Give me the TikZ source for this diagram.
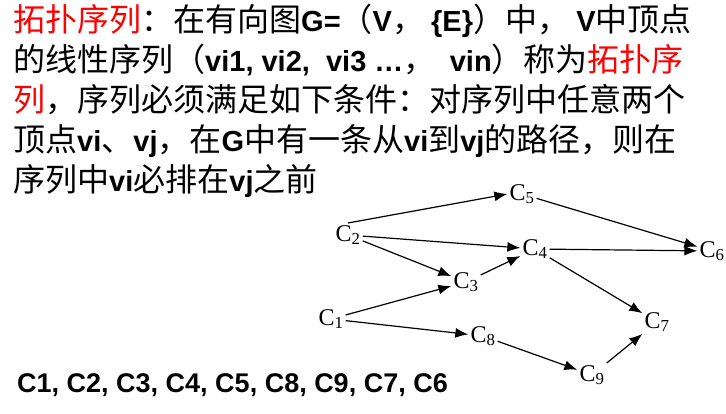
\documentclass[tikz,border=0pt]{standalone}
\usepackage{fontspec}
\setmainfont{Liberation Serif}
\newfontfamily\cjk{Noto Sans CJK SC}
\newfontfamily\arial{Liberation Sans}
\usepackage{tikz}
\usetikzlibrary{arrows.meta}
\newcommand{\B}[1]{{\arial\bfseries\fontsize{29}{32}\selectfont #1}}
\newcommand{\R}[1]{\textcolor{red}{#1}}

\begin{document}
\begin{tikzpicture}[x=1pt,y=-1pt,
  line/.style={anchor=base west,inner sep=0pt,font=\cjk\fontsize{32}{36}\selectfont},
  vtx/.style={inner sep=2pt,font=\fontsize{24}{26}\selectfont},
  edge/.style={-{Latex[length=13pt,width=10pt]},line width=1.2pt}]
  \useasboundingbox (0,0) rectangle (726,413);
  \node[line] (l1) at (13,31) {\R{拓扑序列}：在有向图\B{G=}（\B{V}，\ \B{\{E\}}）中，\ \B{V}中顶点};
  \node[line] (l2) at (13,71) {的线性序列（\B{vi1, vi2,\ \ vi3 …}，\ \ \B{vin}）称为\R{拓扑序}};
  \node[line] (l3) at (13,111) {\R{列}，序列必须满足如下条件：对序列中任意两个};
  \node[line] (l4) at (13,151) {顶点\B{vi}、\B{vj}，在\B{G}中有一条从\B{vi}到\B{vj}的路径，则在};
  \node[line] (l5) at (13,191) {序列中\B{vi}必排在\B{vj}之前};
  \node[vtx] (c1) at (331,319) {C\textsubscript{1}};
  \node[vtx] (c2) at (348,235) {C\textsubscript{2}};
  \node[vtx] (c3) at (466,282) {C\textsubscript{3}};
  \node[vtx] (c4) at (535,249) {C\textsubscript{4}};
  \node[vtx] (c5) at (522,194) {C\textsubscript{5}};
  \node[vtx] (c6) at (712,251) {C\textsubscript{6}};
  \node[vtx] (c7) at (657,322) {C\textsubscript{7}};
  \node[vtx] (c8) at (483,336) {C\textsubscript{8}};
  \node[vtx] (c9) at (592,375) {C\textsubscript{9}};
  \draw[edge] (c2.north) -- (c5.west);
  \draw[edge] (c2) -- (c4);
  \draw[edge] (c2) -- (c3);
  \draw[edge] (c3) -- (c4);
  \draw[edge] (c1) -- (c3);
  \draw[edge] (c1) -- (c8);
  \draw[edge] (c5) -- (c6);
  \draw[edge] (c4) -- (c6);
  \draw[edge] (c4) -- (c7);
  \draw[edge] (c8) -- (c9);
  \draw[edge] (c9) -- (c7);
  \node[anchor=base west,inner sep=0pt,font=\arial\bfseries\fontsize{27}{30}\selectfont] (seq) at (17,392) {C1, C2, C3, C4, C5, C8, C9, C7, C6};
\end{tikzpicture}
\end{document}
